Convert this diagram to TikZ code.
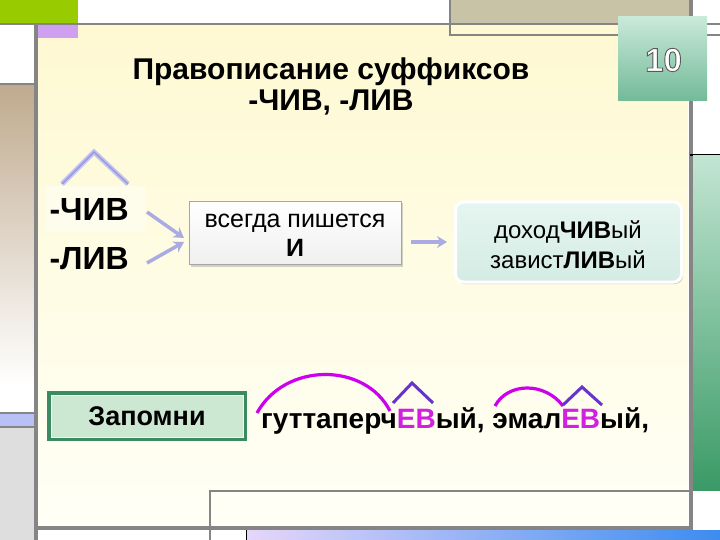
\documentclass[tikz,border=0pt]{standalone}
\usepackage{fontspec}
\setmainfont{Liberation Sans}
\usetikzlibrary{arrows.meta,shadows}
\definecolor{yelTop}{HTML}{FEF9D2}
\definecolor{yelBot}{HTML}{FFFFF6}
\definecolor{frameGray}{HTML}{858585}
\definecolor{limeG}{HTML}{99CC00}
\definecolor{lilac}{HTML}{CFA0F0}
\definecolor{tanTop}{HTML}{C8C3A6}
\definecolor{stripTan}{HTML}{BFAA8E}
\definecolor{stripBlue}{HTML}{B8C0F6}
\definecolor{stripGray}{HTML}{DEDEDE}
\definecolor{sideGTop}{HTML}{C2E5D2}
\definecolor{sideGBot}{HTML}{3A9A66}
\definecolor{barL}{HTML}{E6D6FA}
\definecolor{barR}{HTML}{3C8CF0}
\definecolor{badgeTop}{HTML}{C9E9D9}
\definecolor{badgeBot}{HTML}{72BA98}
\definecolor{lav}{HTML}{ABABE4}
\definecolor{boxTeal}{HTML}{D4ECE4}
\definecolor{boxTealTop}{HTML}{E6F5F0}
\definecolor{zapFill}{HTML}{CDE8D2}
\definecolor{zapBorder}{HTML}{3A8A62}
\definecolor{arcMag}{HTML}{CC00EE}
\definecolor{caretVio}{HTML}{6633CC}
\definecolor{evMag}{HTML}{D020E0}
\newcommand\outlinedtxt[1]{\special{pdf:literal direct q 2 Tr 0.9 w 0.35 0.35 0.35 RG}#1\special{pdf:literal direct Q}}
\tikzset{
  frameline/.style={draw=frameGray, line width=4pt},
  thinframe/.style={draw=frameGray, line width=2pt},
  titletext/.style={font=\fontsize{30}{31}\selectfont\bfseries, align=center},
  suftext/.style={font=\fontsize{32}{34}\selectfont\bfseries, anchor=base west},
  lavarrow/.style={draw=lav, line width=3.5pt, -{Stealth[length=10pt,width=12pt]}},
  midbox/.style={draw=gray!70, line width=0.8pt, top color=white, bottom color=gray!12,
     minimum width=212pt, minimum height=63pt,
     drop shadow={shadow xshift=2pt, shadow yshift=-2pt, opacity=0.35}},
  resbox/.style={draw=white, line width=3pt, rounded corners=8pt, top color=boxTealTop, bottom color=boxTeal,
     minimum width=226pt, minimum height=80pt,
     drop shadow={shadow xshift=1.5pt, shadow yshift=-2pt, opacity=0.35}},
  midtext/.style={font=\fontsize{25}{30}\selectfont, align=center},
  restext/.style={font=\fontsize{24}{30}\selectfont, align=center},
  zapbox/.style={draw=zapBorder, line width=3.5pt, fill=zapFill, minimum width=196pt, minimum height=46pt,
     font=\fontsize{27}{28}\selectfont\bfseries},
  arcline/.style={draw=arcMag, line width=3.2pt},
  caretline/.style={draw=caretVio, line width=3pt},
}
\begin{document}
\begin{tikzpicture}[x=1pt,y=-1pt]
\useasboundingbox (0,0) rectangle (720,540);
\fill[white] (0,0) rectangle (720,540);
% content background
\shade[top color=yelTop, bottom color=yelBot] (38,25) rectangle (688,526);
% left strip
\shade[top color=stripTan, bottom color=white] (0,84) rectangle (34,385);
\fill[stripBlue] (0,413) rectangle (34,427);
\fill[stripGray] (0,427) rectangle (34,540);
\draw[thinframe, line width=1.5pt] (0,413) -- (34,413) (0,427) -- (34,427);
\draw[frameGray, line width=1.2pt] (0,84) -- (34,84);
% top-left blocks
\fill[limeG] (0,0) rectangle (78,23);
\fill[lilac] (38,25) rectangle (78,38);
% top tan block
\fill[tanTop] (450,0) rectangle (690,23);
\draw[thinframe, line width=1.5pt] (450,0) -- (450,35) -- (720,35);
\draw[frameGray, line width=2.5pt] (0,24) -- (720,24);
% verticals
\draw[frameline] (35.5,23) -- (35.5,540);
\draw[frameline] (690.5,0) -- (690.5,540);
% right side
\draw[black, line width=1.2pt] (690,155) -- (720,155);
\shade[top color=sideGTop, bottom color=sideGBot] (693,156) rectangle (720,490);
% bottom
\draw[thinframe] (210,540) -- (210,490.5) -- (690,490.5);
\shade[left color=barL, right color=barR] (246,530) rectangle (720,540);
\draw[black, line width=0.8pt] (246,530) -- (246,540);
\draw[frameGray, line width=4pt] (34,528) -- (692,528);

% badge
\shade[top color=badgeTop, bottom color=badgeBot] (618,17) rectangle (707,101);
\node[font=\fontsize{33}{33}\selectfont\bfseries, text=white] (badge) at (663.5,60) {\outlinedtxt{10}};

% title
\node[titletext] (title) at (331,86) {Правописание суффиксов\\-ЧИВ, -ЛИВ};

% suffixes
\fill[white, opacity=0.4] (46,186) rectangle (146,232);
\node[suftext] (chiv) at (46,221) {-ЧИВ};
\node[suftext] (liv) at (46,269) {-ЛИВ};
\coordinate (cL) at (62,184);
\coordinate (cT) at (94,152);
\coordinate (cR) at (128,184);
\draw[draw=lav!70, line width=5pt, line join=miter] (cL) -- (cT) -- (cR);
\draw[draw=lav!120, line width=1.5pt] (cL) -- (cT) -- (cR);

% middle box
\node[midbox] (mid) at (295,233) {};
\node[midtext, anchor=base] (midA) at (295,227) {всегда пишется};
\node[midtext, anchor=base, font=\fontsize{25}{26}\selectfont\bfseries] (midB) at (295,256) {И};

% arrows
\coordinate (a1s) at (147,212);
\coordinate (a2s) at (147,263);
\coordinate (a1e) at (184,238);
\coordinate (a2e) at (184,242);
\draw[lavarrow] (a1s) -- (a1e);
\draw[lavarrow] (a2s) -- (a2e);

% result box
\node[resbox] (res) at (568.5,242) {};
\node[restext, anchor=base] (resA) at (568,238) {доход\textbf{ЧИВ}ый};
\node[restext, anchor=base] (resB) at (568,268) {завист\textbf{ЛИВ}ый};
\coordinate (a3s) at (411,242);
\coordinate (a3e) at (447,242);
\draw[lavarrow] (a3s) -- (a3e);

% Запомни
\node[zapbox] (zap) at (147,416) {Запомни};
\draw[white!70!zapFill, line width=0.8pt] (51,395) rectangle (243,437);

% example
\node[font=\fontsize{28}{30}\selectfont\bfseries, anchor=base west, inner sep=0pt] (ex) at (261,428)
  {гуттаперч\textcolor{evMag}{ЕВ}ый, эмал\textcolor{evMag}{ЕВ}ый,};
\draw[arcline] (257,413) .. controls (285,362) and (365,362) .. (390,411);
\draw[caretline] (393,403) -- (412,383) -- (433,403);
\draw[arcline] (495,406) .. controls (508,382) and (545,382) .. (563,406);
\draw[caretline] (563,405) -- (582,387) -- (602,405);
\end{tikzpicture}
\end{document}
